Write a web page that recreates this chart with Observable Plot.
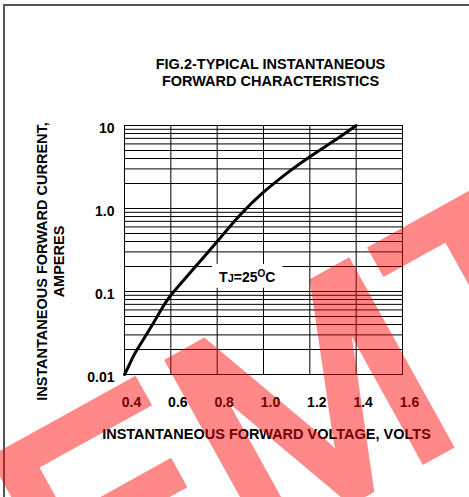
<!DOCTYPE html>
<html><head><meta charset="utf-8">
<script src="https://cdn.jsdelivr.net/npm/d3@7"></script>
<script src="https://cdn.jsdelivr.net/npm/@observablehq/plot@0.6"></script>
<style>
html,body{margin:0;padding:0;background:#fff;}
#wrap{position:relative;width:469px;height:497px;overflow:hidden;font-family:"Liberation Sans",Arial,sans-serif;}
#border{position:absolute;left:3px;top:4px;width:600px;height:600px;border-left:2px solid #555;border-top:2px solid #555;}
#chart{position:absolute;left:0;top:0;}
#wm{position:absolute;left:0;top:0;pointer-events:none;}
</style></head><body>
<div id="wrap"><div id="border"></div><div id="chart"></div></div>
<script>
// data
const voltage = [0.40, 0.42, 0.45, 0.50, 0.55, 0.60, 0.70, 0.80, 0.90, 1.00, 1.10, 1.20, 1.30, 1.40];
const current = [0.010, 0.013, 0.019, 0.032, 0.055, 0.090, 0.19, 0.40, 0.84, 1.57, 2.65, 4.2, 6.4, 10];
const xTicks = [0.4, 0.6, 0.8, 1.0, 1.2, 1.4, 1.6];
const xTickLabels = ["0.4", "0.6", "0.8", "1.0", "1.2", "1.4", "1.6"];
const yTicks = [0.01, 0.1, 1, 10];
const yTickLabels = ["0.01", "0.1", "1.0", "10"];
const yDecades = [0.01, 0.1, 1];
const yMultipliers = [1, 2, 3, 4, 5, 6, 7, 8, 9];
const titleText = "FIG.2-TYPICAL INSTANTANEOUS\nFORWARD CHARACTERISTICS";
const xLabelText = "INSTANTANEOUS FORWARD VOLTAGE, VOLTS";
const yLabelText = "INSTANTANEOUS FORWARD CURRENT,\nAMPERES";
const noteV = [0.93];
const noteI = [0.148];
const noteText = ["TJ=25OC"];
const watermarkText = "EMT";

const curve = voltage.map((v, i) => ({v, i: current[i]}));
const yGrid = yDecades.flatMap(d => yMultipliers.map(m => d * m)).concat([10]);
const note = noteV.map((v, k) => ({v, i: noteI[k], t: noteText[k]}));
const font = '"Liberation Sans", Arial, sans-serif';

const chart = Plot.plot({
  width: 469, height: 497,
  marginLeft: 124, marginRight: 67, marginTop: 125, marginBottom: 123,
  style: {fontFamily: font, fontWeight: "bold", fontSize: "14px", color: "#000", background: "transparent"},
  x: {domain: [0.4, 1.6], axis: null},
  y: {type: "log", domain: [0.01, 10], axis: null},
  marks: [
    Plot.ruleX(xTicks, {stroke: "#000", strokeWidth: 1}),
    Plot.ruleY(yGrid, {stroke: "#000", strokeWidth: 1}),
    Plot.frame({stroke: "#000", strokeWidth: 1}),
    Plot.axisX(xTicks, {tickSize: 0, tickPadding: 23, dx: 7, fontSize: 14, fontWeight: "bold",
      tickFormat: d => xTickLabels[xTicks.indexOf(d)], label: null}),
    Plot.axisY(yTicks, {tickSize: 0, tickPadding: 10, dy: 3, fontSize: 14, fontWeight: "bold",
      tickFormat: d => yTickLabels[yTicks.indexOf(d)], label: null}),
    Plot.line(curve, {x: "v", y: "i", stroke: "#000", strokeWidth: 3, curve: "natural"}),
    Plot.text(note, {x: "v", y: "i", text: "t", fontSize: 14, fontWeight: "bold", fill: "#000"}),
    Plot.text([titleText], {frameAnchor: "top", text: d => d, dx: 7, dy: -53.5, lineAnchor: "middle",
      lineHeight: 1.17, fontSize: 14.5, fontWeight: "bold", fill: "#000"}),
    Plot.text([xLabelText], {frameAnchor: "bottom", text: d => d, dx: 3, dy: 60, lineAnchor: "middle",
      fontSize: 14.5, fontWeight: "bold", fill: "#000"}),
    Plot.text([yLabelText], {frameAnchor: "left", text: d => d, dx: -74, dy: 11.5, rotate: -90,
      textAnchor: "middle", lineAnchor: "middle", lineHeight: 1.17, fontSize: 14.5, fontWeight: "bold", fill: "#000"})
  ]
});
document.getElementById("chart").appendChild(chart);

// rich formatting for the TJ=25°C note, with a white box behind it
d3.select(chart).selectAll("text").each(function() {
  if (this.textContent === noteText[0]) {
    const t = d3.select(this);
    t.text(null);
    t.append("tspan").text("T");
    t.append("tspan").attr("font-size", 11).text("J");
    t.append("tspan").text("=25");
    t.append("tspan").attr("font-size", 10).attr("dy", -5).text("O");
    t.append("tspan").attr("dy", 5).text("C");
    const b = this.getBBox();
    const ctm = this.getAttribute("transform");
    const r = document.createElementNS("http://www.w3.org/2000/svg", "rect");
    r.setAttribute("x", b.x - 7); r.setAttribute("y", b.y - 4);
    r.setAttribute("width", b.width + 14); r.setAttribute("height", b.height + 7);
    r.setAttribute("fill", "#fff");
    if (ctm) r.setAttribute("transform", ctm);
    this.parentNode.insertBefore(r, this);
  }
});

// watermark overlay
const wm = d3.select("#wrap").append("svg").attr("id", "wm").attr("width", 469).attr("height", 497);
wm.append("g").attr("opacity", 0.46)
  .append("text")
  .attr("x", 352).attr("y", 498)
  .attr("text-anchor", "middle")
  .attr("transform", "rotate(-29 352 498)")
  .attr("font-family", font)
  .attr("font-size", 300)
  .attr("fill", "red").attr("stroke", "red").attr("stroke-width", 11).attr("stroke-linejoin", "miter")
  .text(watermarkText);
</script>
</body></html>
